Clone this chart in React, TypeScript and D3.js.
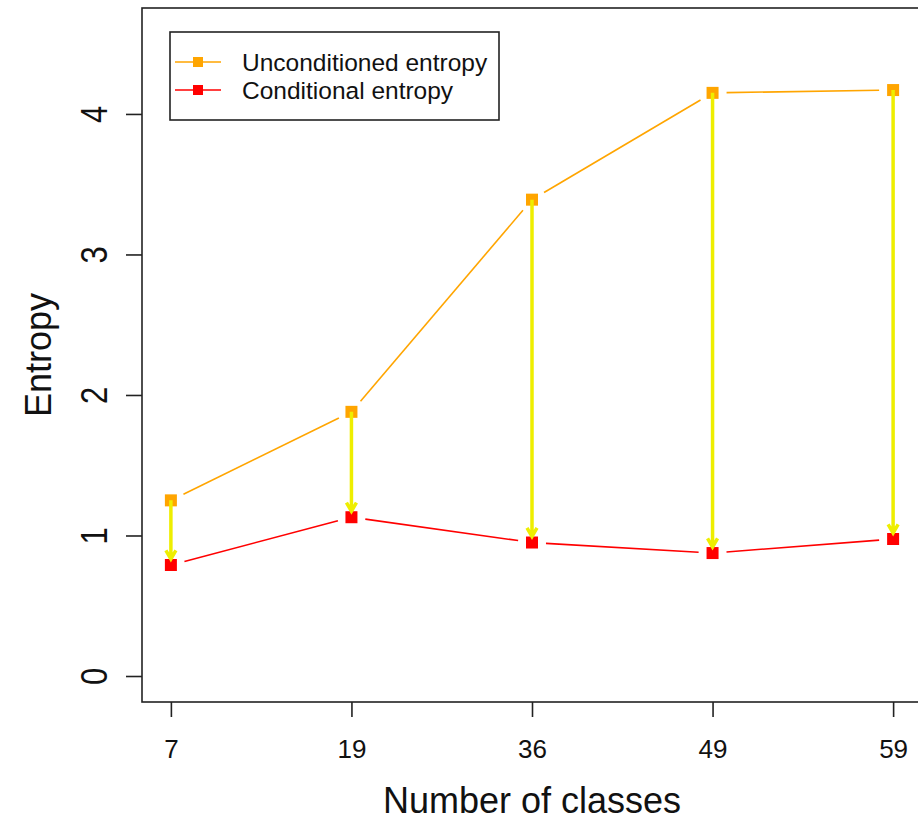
import React, { useRef, useEffect } from 'react';
import { select, scaleLinear, axisBottom, axisLeft } from 'd3';

// values
const classes = ['7', '19', '36', '49', '59'];
const unconditioned = [1.25, 1.88, 3.39, 4.15, 4.17];
const conditional = [0.79, 1.13, 0.95, 0.875, 0.975];
const yTicks = [0, 1, 2, 3, 4];
const legendLabels = ['Unconditioned entropy', 'Conditional entropy'];
const seriesColors = ['#ffa500', '#ff0000'];

const W = 918;
const H = 819;
const FONT = "'Liberation Sans', Arial, sans-serif";

function EntropyChart() {
  const svgRef = useRef(null);

  useEffect(() => {
    const svg = select(svgRef.current);
    svg.selectAll('*').remove();

    // R style: index positions 1..n with 4% padding
    const n = classes.length;
    const pad = (n - 1) * 0.04;
    const box = { left: 142, right: 922, top: 8, bottom: 702 };

    const xScale = scaleLinear()
      .domain([1 - pad, n + pad])
      .range([box.left, box.right]);
    const yScale = scaleLinear()
      .domain([-0.185, 4.754])
      .range([box.bottom, box.top]);

    const series = [unconditioned, conditional];

    // # box
    svg.append('rect')
      .attr('x', box.left).attr('y', box.top)
      .attr('width', box.right - box.left).attr('height', box.bottom - box.top)
      .attr('fill', 'none').attr('stroke', '#222').attr('stroke-width', 1.6);

    // # x axis
    const xAxis = svg.append('g')
      .attr('transform', `translate(0,${box.bottom})`)
      .call(axisBottom(xScale)
        .tickValues(classes.map((c, i) => i + 1))
        .tickFormat((d, i) => classes[i])
        .tickSize(15));
    xAxis.select('.domain').remove();
    xAxis.selectAll('line').attr('stroke', '#222').attr('stroke-width', 1.6);
    xAxis.selectAll('text')
      .attr('font-family', FONT).attr('font-size', 26).attr('fill', '#111')
      .attr('dy', 0).attr('y', 47)
      .attr('dominant-baseline', 'central');

    // # y axis (labels parallel to the axis, like R's las = 0)
    const yAxis = svg.append('g')
      .attr('transform', `translate(${box.left},0)`)
      .call(axisLeft(yScale).tickValues(yTicks).tickSize(16).tickFormat(d => String(d)));
    yAxis.select('.domain').remove();
    yAxis.selectAll('line').attr('stroke', '#222').attr('stroke-width', 1.6);
    yAxis.selectAll('text')
      .attr('font-family', FONT).attr('font-size', 31).attr('fill', '#111')
      .attr('x', 0).attr('dy', 0)
      .attr('text-anchor', 'middle')
      .attr('dominant-baseline', 'central')
      .attr('transform', 'translate(-48,0) scale(1.2,1) rotate(-90)');

    // # axis titles
    svg.append('text')
      .attr('x', (box.left + box.right) / 2).attr('y', 800)
      .attr('text-anchor', 'middle').attr('dominant-baseline', 'central')
      .attr('font-family', FONT).attr('font-size', 36).attr('fill', '#111')
      .text('Number of classes');
    svg.append('text')
      .attr('transform', `translate(38,${(box.top + box.bottom) / 2}) rotate(-90)`)
      .attr('text-anchor', 'middle').attr('dominant-baseline', 'central')
      .attr('font-family', FONT).attr('font-size', 36).attr('fill', '#111')
      .text('Entropy');

    // # lines with gaps (type = "b")
    const gap = 14;
    series.forEach((vals, s) => {
      for (let i = 0; i < vals.length - 1; i++) {
        const x0 = xScale(i + 1), y0 = yScale(vals[i]);
        const x1 = xScale(i + 2), y1 = yScale(vals[i + 1]);
        const len = Math.hypot(x1 - x0, y1 - y0);
        const ux = (x1 - x0) / len, uy = (y1 - y0) / len;
        svg.append('line')
          .attr('x1', x0 + ux * gap).attr('y1', y0 + uy * gap)
          .attr('x2', x1 - ux * gap).attr('y2', y1 - uy * gap)
          .attr('stroke', seriesColors[s]).attr('stroke-width', 1.6);
      }
    });

    // # points
    const ms = 12;
    series.forEach((vals, s) => {
      svg.selectAll(`.pt${s}`)
        .data(vals)
        .join('rect')
        .attr('class', `pt${s}`)
        .attr('x', (d, i) => xScale(i + 1) - ms / 2)
        .attr('y', d => yScale(d) - ms / 2)
        .attr('width', ms).attr('height', ms)
        .attr('fill', seriesColors[s]);
    });

    // # arrows
    const headLen = 10;
    const ang = Math.PI / 6;
    unconditioned.forEach((u, i) => {
      const x = xScale(i + 1);
      const yStart = yScale(u);
      const yEnd = yScale(conditional[i]) - ms / 2;
      svg.append('path')
        .attr('d', `M${x},${yStart}L${x},${yEnd}` +
          `M${x - headLen * Math.sin(ang)},${yEnd - headLen * Math.cos(ang)}L${x},${yEnd}` +
          `L${x + headLen * Math.sin(ang)},${yEnd - headLen * Math.cos(ang)}`)
        .attr('fill', 'none').attr('stroke', '#eeee00').attr('stroke-width', 3.5);
    });

    // # legend
    const lg = { x: 170, y: 32, w: 329, h: 88 };
    svg.append('rect')
      .attr('x', lg.x).attr('y', lg.y).attr('width', lg.w).attr('height', lg.h)
      .attr('fill', 'white').attr('stroke', '#222').attr('stroke-width', 1.6);
    legendLabels.forEach((label, i) => {
      const cy = lg.y + 30 + i * 28;
      svg.append('line')
        .attr('x1', lg.x + 5).attr('x2', lg.x + 51).attr('y1', cy).attr('y2', cy)
        .attr('stroke', seriesColors[i]).attr('stroke-width', 1.6);
      svg.append('rect')
        .attr('x', lg.x + 28 - 5).attr('y', cy - 5).attr('width', 10).attr('height', 10)
        .attr('fill', seriesColors[i]);
      svg.append('text')
        .attr('x', lg.x + 72).attr('y', cy)
        .attr('dominant-baseline', 'central')
        .attr('font-family', FONT).attr('font-size', 24.5).attr('fill', '#111')
        .text(label);
    });
  }, []);

  return (
    <svg ref={svgRef} width={W} height={H}
      style={{ position: 'absolute', left: 0, top: 0, background: 'white' }} />
  );
}

export default function App() {
  return <EntropyChart />;
}
